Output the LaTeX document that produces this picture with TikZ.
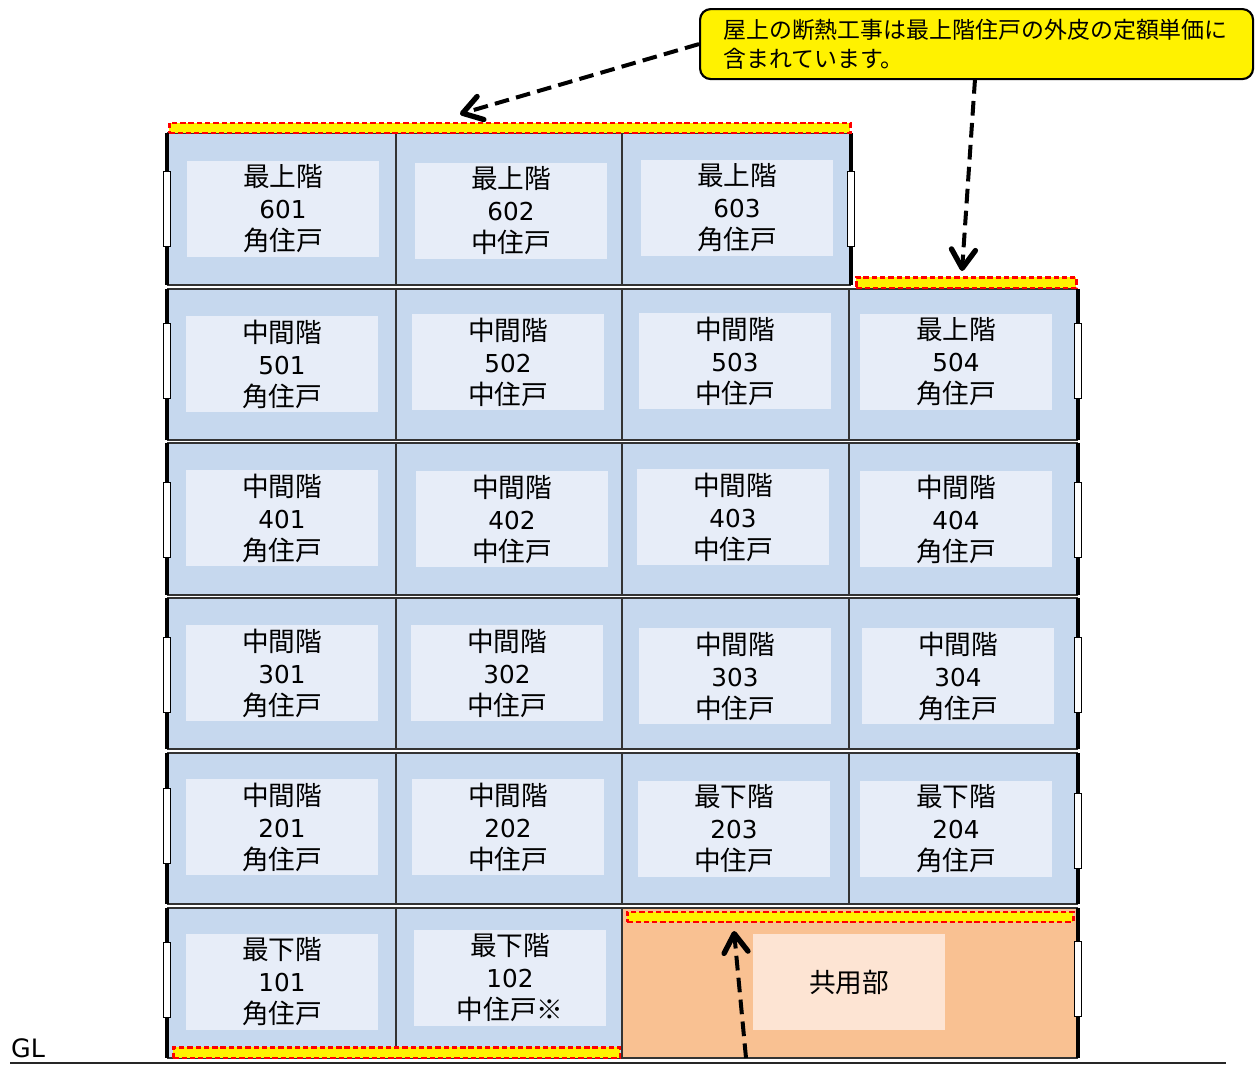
\documentclass[tikz,border=0pt]{standalone}
\usepackage{fontspec}
\setmainfont{Noto Sans CJK JP}
\newfontfamily\dig{DejaVu Sans}
\usetikzlibrary{arrows.meta}
\definecolor{cellblue}{HTML}{C6D8EE}
\definecolor{innerblue}{HTML}{E7EDF8}
\definecolor{orangefill}{HTML}{F9C192}
\definecolor{innerorange}{HTML}{FDE4D3}
\newcommand{\num}[1]{{\dig\fontsize{18.5}{24}\selectfont #1}}
\begin{document}
\begin{tikzpicture}[x=0.75pt,y=-0.75pt,
  floorline/.style={draw=black!80, line width=1pt},
  wall/.style={line width=3pt, black},
  window/.style={draw=black, fill=white, line width=1.2pt, minimum width=5.5pt, minimum height=56pt, inner sep=0pt},
  lbl/.style={fill=innerblue, minimum width=144pt, minimum height=72pt, inner sep=0pt, align=center, font=\fontsize{20}{24}\selectfont},
  strip/.style={draw=red, fill=yellow, line width=1.9pt, dash pattern=on 4pt off 2.2pt, inner sep=0pt, anchor=north west},
  arrowline/.style={line width=3pt, dash pattern=on 11pt off 5.5pt, -{Straight Barb[length=14pt,width=18pt,line width=4pt,round]}},
]
\useasboundingbox (0,0) rectangle (1256,1065);

% ---------- floors ----------
% row 6 (3 units)
\fill[cellblue] (168,133) rectangle (850,285);
\draw[floorline] (168,133) rectangle (850,285);
\draw[floorline] (396,133) -- (396,285) (622,133) -- (622,285);
% rows 5..2
\foreach \t/\b in {289/440,443/595,598/749,753/904}{
  \fill[cellblue] (168,\t) rectangle (1077,\b);
  \draw[floorline] (168,\t) rectangle (1077,\b);
  \draw[floorline] (396,\t) -- (396,\b) (622,\t) -- (622,\b) (849,\t) -- (849,\b);
}
% row 1
\fill[cellblue] (168,908) rectangle (622,1058);
\fill[orangefill] (622,908) rectangle (1077,1058);
\draw[floorline] (168,908) rectangle (1077,1058);
\draw[floorline] (396,908) -- (396,1058) (622,908) -- (622,1058);

% ---------- walls ----------
\foreach \t/\b in {133/285,289/440,443/595,598/749,753/904,908/1058}{
  \draw[wall] (167,\t) -- (167,\b);
}
\draw[wall] (851,133) -- (851,285);
\foreach \t/\b in {289/440,443/595,598/749,753/904,908/1058}{
  \draw[wall] (1078,\t) -- (1078,\b);
}

% ---------- windows ----------
\foreach \y [count=\i] in {209,361,520,675,826,980}{
  \node[window] (wl\i) at (167,\y) {};
}
\node[window] (wr6) at (851,209) {};
\foreach \y [count=\i] in {361,520,675,831,979}{
  \node[window] (wr\i) at (1078,\y) {};
}

% ---------- unit labels ----------
\node[lbl] (u601) at (283,209) {最上階\\\num{601}\\角住戸};
\node[lbl] (u602) at (511,211) {最上階\\\num{602}\\中住戸};
\node[lbl] (u603) at (737,208) {最上階\\\num{603}\\角住戸};
\node[lbl] (u501) at (282,364) {中間階\\\num{501}\\角住戸};
\node[lbl] (u502) at (508,362) {中間階\\\num{502}\\中住戸};
\node[lbl] (u503) at (735,361) {中間階\\\num{503}\\中住戸};
\node[lbl] (u504) at (956,362) {最上階\\\num{504}\\角住戸};
\node[lbl] (u401) at (282,518) {中間階\\\num{401}\\角住戸};
\node[lbl] (u402) at (512,519) {中間階\\\num{402}\\中住戸};
\node[lbl] (u403) at (733,517) {中間階\\\num{403}\\中住戸};
\node[lbl] (u404) at (956,519) {中間階\\\num{404}\\角住戸};
\node[lbl] (u301) at (282,673) {中間階\\\num{301}\\角住戸};
\node[lbl] (u302) at (507,673) {中間階\\\num{302}\\中住戸};
\node[lbl] (u303) at (735,676) {中間階\\\num{303}\\中住戸};
\node[lbl] (u304) at (958,676) {中間階\\\num{304}\\角住戸};
\node[lbl] (u201) at (282,827) {中間階\\\num{201}\\角住戸};
\node[lbl] (u202) at (508,827) {中間階\\\num{202}\\中住戸};
\node[lbl] (u203) at (734,829) {最下階\\\num{203}\\中住戸};
\node[lbl] (u204) at (956,829) {最下階\\\num{204}\\角住戸};
\node[lbl] (u101) at (282,982) {最下階\\\num{101}\\角住戸};
\node[lbl] (u102) at (510,978) {最下階\\\num{102}\\中住戸※};
\node[lbl, fill=innerorange] (common) at (849,982) {共用部};

% ---------- insulation strips ----------
\node[strip, minimum width=510.75pt, minimum height=7.5pt] (roof6) at (168,121.5) {};
\node[strip, minimum width=165pt, minimum height=8pt] (roof5) at (855,276) {};
\node[strip, minimum width=334.5pt, minimum height=7.5pt] (ceilc) at (626,910.5) {};
\node[strip, minimum width=335pt, minimum height=8pt] (floor1) at (172,1046) {};

% ---------- ground ----------
\draw[line width=1.5pt, black!85] (10,1063) -- (1226,1063);
\node[font=\dig\fontsize{19}{24}\selectfont, inner sep=0pt] (gl) at (28,1048) {GL};

% ---------- callout ----------
\node[draw=black, fill=yellow, line width=1.6pt, rounded corners=8pt,
      minimum width=414.75pt, minimum height=52.5pt, inner xsep=17pt, inner ysep=0pt,
      text width=380pt, align=left, font=\fontsize{17.2}{21.75}\selectfont, anchor=north west]
  (callout) at (699,8) {屋上の断熱工事は最上階住戸の外皮の定額単価に\\含まれています。};

% ---------- arrows ----------
\coordinate (a1e) at (460,114);
\coordinate (a2s) at (975,79);
\coordinate (a2e) at (962,271);
\coordinate (a3s) at (746,1058);
\coordinate (a3e) at (734,931);
\draw[arrowline] (callout.west) -- (a1e);
\draw[arrowline] (a2s) -- (a2e);
\draw[arrowline] (a3s) -- (a3e);
\end{tikzpicture}
\end{document}
